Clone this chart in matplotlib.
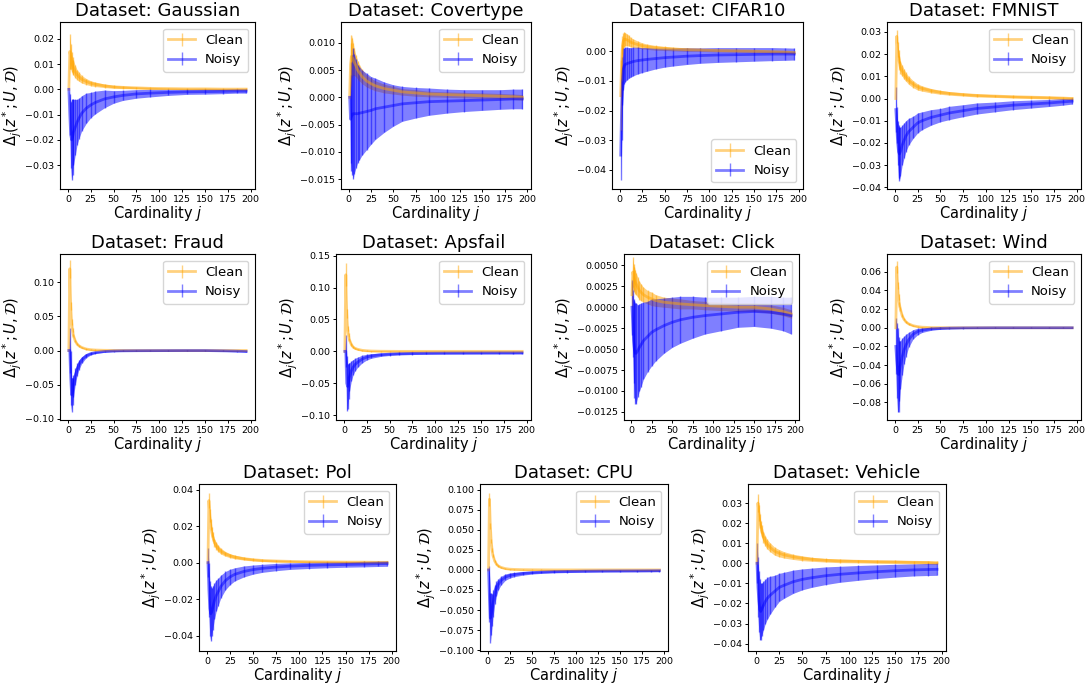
import matplotlib
matplotlib.use("Agg")
import matplotlib.pyplot as plt
from matplotlib.ticker import MultipleLocator
import numpy as np

J = [1, 2, 3, 4, 5, 6, 8, 10, 12, 15, 20, 25, 30, 40, 50, 60, 75, 90, 110, 130, 150, 170, 185, 195]

names = ["Gaussian", "Covertype", "CIFAR10", "FMNIST", "Fraud", "Apsfail",
         "Click", "Wind", "Pol", "CPU", "Vehicle"]

# Gaussian
gauss_clean = [0.0, 0.015, 0.013, 0.011, 0.0095, 0.0085, 0.007, 0.0058, 0.005, 0.004, 0.0031, 0.0024,
               0.002, 0.0014, 0.001, 0.0008, 0.0006, 0.0004, 0.0003, 0.0002, 0.0002, 0.0001, 0.0001, 0.0001]
gauss_clean_err = [0.0, 0.007, 0.005, 0.004, 0.0035, 0.003, 0.0025, 0.002, 0.0018, 0.0015, 0.0012, 0.001,
                   0.0009, 0.0007, 0.0006, 0.0005, 0.0004, 0.0004, 0.0003, 0.0003, 0.0003, 0.0003, 0.0003, 0.0003]
gauss_noisy = [0.0, -0.01, -0.018, -0.02, -0.019, -0.017, -0.015, -0.013, -0.0115, -0.0095, -0.0075, -0.0062,
               -0.0052, -0.0038, -0.003, -0.0024, -0.0018, -0.0015, -0.0012, -0.001, -0.0009, -0.0008, -0.0007, -0.0007]
gauss_noisy_err = [0.0, 0.008, 0.013, 0.016, 0.015, 0.013, 0.011, 0.009, 0.008, 0.007, 0.006, 0.005,
                   0.0045, 0.0035, 0.0025, 0.002, 0.0017, 0.0015, 0.0012, 0.001, 0.001, 0.0009, 0.0008, 0.0008]

# Covertype
cov_clean = [0.0, 0.006, 0.0075, 0.0073, 0.007, 0.0065, 0.0058, 0.005, 0.0045, 0.0038, 0.003, 0.0025,
             0.0021, 0.0016, 0.0013, 0.001, 0.0008, 0.0006, 0.0005, 0.0004, 0.0003, 0.0002, 0.0001, 0.0]
cov_clean_err = [0.0, 0.004, 0.004, 0.0035, 0.003, 0.0025, 0.002, 0.0017, 0.0015, 0.0013, 0.0011, 0.001,
                 0.0009, 0.0008, 0.0007, 0.0006, 0.0006, 0.0005, 0.0005, 0.0005, 0.0005, 0.0005, 0.0005, 0.0005]
cov_noisy = [0.0, -0.004, -0.0035, -0.0032, -0.003, -0.003, -0.003, -0.003, -0.0029, -0.0028, -0.0026, -0.0024,
             -0.0021, -0.0018, -0.0015, -0.0012, -0.001, -0.0008, -0.0007, -0.0006, -0.0005, -0.0004, -0.0003, -0.0003]
cov_noisy_err = [0.0, 0.008, 0.01, 0.011, 0.012, 0.011, 0.01, 0.009, 0.0085, 0.0078, 0.007, 0.0062,
                 0.0056, 0.0046, 0.0038, 0.0032, 0.0028, 0.0025, 0.0022, 0.002, 0.0019, 0.0018, 0.0018, 0.0018]

# CIFAR10
cifar_clean = [-0.015, -0.004, 0.002, 0.0035, 0.004, 0.004, 0.0038, 0.0035, 0.003, 0.0027, 0.0022, 0.0018,
               0.0015, 0.0011, 0.0009, 0.0007, 0.0005, 0.0004, 0.0002, 0.0001, 0.0, -0.0002, -0.0003, -0.0005]
cifar_clean_err = [0.012, 0.006, 0.003, 0.0025, 0.0025, 0.0022, 0.002, 0.0018, 0.0016, 0.0014, 0.0012, 0.001,
                   0.0009, 0.0008, 0.0007, 0.0006, 0.0006, 0.0005, 0.0005, 0.0005, 0.0005, 0.0005, 0.0005, 0.0005]
cifar_noisy = [-0.035, -0.02, -0.01, -0.006, -0.005, -0.0045, -0.0042, -0.004, -0.0038, -0.0035, -0.0032, -0.003,
               -0.0028, -0.0025, -0.0022, -0.002, -0.0017, -0.0015, -0.0013, -0.0012, -0.0011, -0.001, -0.001, -0.001]
cifar_noisy_err = [0.0085, 0.01, 0.008, 0.007, 0.006, 0.0058, 0.0055, 0.0052, 0.005, 0.0048, 0.0045, 0.0042,
                   0.004, 0.0035, 0.0032, 0.003, 0.0028, 0.0026, 0.0025, 0.0024, 0.0023, 0.0022, 0.0021, 0.002]

# FMNIST
fm_clean = [0.0, 0.028, 0.022, 0.019, 0.016, 0.014, 0.0125, 0.011, 0.0098, 0.0082, 0.0065, 0.0052,
            0.0045, 0.0035, 0.0028, 0.0023, 0.0018, 0.0014, 0.0011, 0.0008, 0.0006, 0.0004, 0.0002, 0.0]
fm_clean_err = [0.0, 0.003, 0.0035, 0.003, 0.003, 0.0028, 0.0025, 0.0023, 0.002, 0.0018, 0.0016, 0.0014,
                0.0012, 0.001, 0.0009, 0.0008, 0.0007, 0.0007, 0.0006, 0.0006, 0.0006, 0.0006, 0.0006, 0.0006]
fm_noisy = [-0.005, -0.012, -0.02, -0.024, -0.025, -0.024, -0.021, -0.019, -0.017, -0.015, -0.013, -0.011,
            -0.01, -0.0085, -0.0075, -0.0065, -0.0055, -0.0045, -0.0038, -0.003, -0.0025, -0.002, -0.0015, -0.0012]
fm_noisy_err = [0.01, 0.008, 0.01, 0.012, 0.012, 0.011, 0.009, 0.008, 0.007, 0.006, 0.005, 0.0045,
                0.004, 0.0035, 0.003, 0.003, 0.0027, 0.0025, 0.0022, 0.002, 0.0018, 0.0016, 0.0015, 0.0013]

# Fraud
fraud_clean = [0.0, 0.12, 0.065, 0.042, 0.03, 0.022, 0.014, 0.0095, 0.007, 0.0045, 0.0022, 0.0012,
               0.0007, 0.0003, 0.0002, 0.0001, 0.0, 0.0, 0.0, 0.0, 0.0, 0.0, 0.0, 0.0]
fraud_clean_err = [0.0, 0.013, 0.006, 0.004, 0.003, 0.0025, 0.002, 0.0015, 0.0012, 0.001, 0.0008, 0.0008,
                   0.0008, 0.0008, 0.0008, 0.0008, 0.0008, 0.0008, 0.0008, 0.0008, 0.0008, 0.0008, 0.0008, 0.0008]
fraud_noisy = [0.0, 0.0, -0.04, -0.065, -0.06, -0.052, -0.038, -0.028, -0.021, -0.014, -0.0075, -0.0045,
               -0.003, -0.0015, -0.0008, -0.0005, -0.0003, -0.0002, -0.0001, 0.0, 0.0, -0.0005, -0.001, -0.0015]
fraud_noisy_err = [0.0, 0.033, 0.04, 0.025, 0.02, 0.016, 0.012, 0.009, 0.007, 0.005, 0.003, 0.002,
                   0.0015, 0.001, 0.0008, 0.0008, 0.0008, 0.0008, 0.0008, 0.0008, 0.0008, 0.0008, 0.0008, 0.0008]

# Apsfail
aps_clean = [0.0, 0.12, 0.06, 0.036, 0.025, 0.018, 0.011, 0.0068, 0.0048, 0.0032, 0.0016, 0.0009,
             0.0005, 0.0002, 0.0001, 0.0, 0.0, 0.0, 0.0, 0.0, 0.0, 0.0, 0.0, 0.0]
aps_clean_err = [0.0, 0.018, 0.007, 0.004, 0.003, 0.0025, 0.002, 0.0015, 0.0012, 0.001, 0.0008, 0.0008,
                 0.0008, 0.0008, 0.0008, 0.0008, 0.0008, 0.0008, 0.0008, 0.0008, 0.0008, 0.0008, 0.0008, 0.0008]
aps_noisy = [0.0, 0.0, -0.05, -0.055, -0.047, -0.04, -0.031, -0.025, -0.021, -0.017, -0.012, -0.009,
             -0.0072, -0.0053, -0.0043, -0.0037, -0.0032, -0.003, -0.0028, -0.0027, -0.0026, -0.0025, -0.0025, -0.0024]
aps_noisy_err = [0.0, 0.025, 0.043, 0.035, 0.028, 0.022, 0.016, 0.012, 0.01, 0.008, 0.006, 0.0045,
                 0.0036, 0.0027, 0.0022, 0.002, 0.0018, 0.0016, 0.0015, 0.0015, 0.0015, 0.0015, 0.0015, 0.0015]

# Click
click_clean = [0.0015, 0.0042, 0.0036, 0.0033, 0.003, 0.0028, 0.0024, 0.002, 0.0018, 0.0015, 0.0012, 0.001,
               0.0008, 0.0006, 0.0005, 0.0004, 0.0003, 0.0002, 0.0001, 0.0, 0.0, -0.0002, -0.0005, -0.0008]
click_clean_err = [0.0015, 0.0018, 0.0016, 0.0015, 0.0014, 0.0013, 0.0012, 0.0011, 0.001, 0.0009, 0.0008, 0.0008,
                   0.0007, 0.0006, 0.0006, 0.0006, 0.0005, 0.0005, 0.0005, 0.0005, 0.0005, 0.0005, 0.0005, 0.0005]
click_noisy = [0.0, -0.002, -0.004, -0.005, -0.0055, -0.0055, -0.0052, -0.0048, -0.0045, -0.004, -0.0035, -0.003,
               -0.0027, -0.0022, -0.0018, -0.0015, -0.0012, -0.001, -0.0008, -0.0006, -0.0005, -0.0006, -0.0008, -0.001]
click_noisy_err = [0.0033, 0.004, 0.005, 0.0058, 0.006, 0.006, 0.0055, 0.0052, 0.005, 0.0046, 0.0042, 0.004,
                   0.0037, 0.0033, 0.003, 0.0028, 0.0025, 0.0022, 0.002, 0.0018, 0.0018, 0.0019, 0.002, 0.0022]

# Wind
wind_clean = [0.0, 0.065, 0.045, 0.033, 0.025, 0.02, 0.013, 0.009, 0.0065, 0.0042, 0.0022, 0.0012,
              0.0006, 0.0002, 0.0001, 0.0, 0.0, 0.0, 0.0, 0.0, 0.0, 0.0, 0.0, 0.0]
wind_clean_err = [0.0, 0.006, 0.004, 0.003, 0.0025, 0.002, 0.0015, 0.0012, 0.001, 0.0008, 0.0006, 0.0005,
                  0.0005, 0.0005, 0.0005, 0.0005, 0.0005, 0.0005, 0.0005, 0.0005, 0.0005, 0.0005, 0.0005, 0.0005]
wind_noisy = [-0.02, -0.035, -0.045, -0.05, -0.046, -0.04, -0.031, -0.024, -0.019, -0.013, -0.007, -0.004,
              -0.0025, -0.0012, -0.0007, -0.0004, -0.0002, -0.0001, 0.0, 0.0, 0.0, 0.0, 0.0, 0.0]
wind_noisy_err = [0.03, 0.04, 0.045, 0.04, 0.032, 0.026, 0.02, 0.015, 0.012, 0.008, 0.005, 0.0035,
                  0.0025, 0.0015, 0.001, 0.0008, 0.0006, 0.0005, 0.0005, 0.0005, 0.0005, 0.0005, 0.0005, 0.0005]

# Pol
pol_clean = [0.0, 0.034, 0.026, 0.021, 0.017, 0.0145, 0.011, 0.0092, 0.0078, 0.0063, 0.0048, 0.0038,
             0.0031, 0.0022, 0.0016, 0.0012, 0.0009, 0.0007, 0.0005, 0.0004, 0.0003, 0.0003, 0.0002, 0.0002]
pol_clean_err = [0.0, 0.004, 0.0035, 0.003, 0.0028, 0.0025, 0.0022, 0.002, 0.0018, 0.0016, 0.0013, 0.0011,
                 0.001, 0.0008, 0.0007, 0.0006, 0.0006, 0.0005, 0.0005, 0.0005, 0.0005, 0.0005, 0.0005, 0.0005]
pol_noisy = [0.0, -0.015, -0.025, -0.028, -0.027, -0.025, -0.021, -0.018, -0.016, -0.013, -0.0098, -0.0078,
             -0.0064, -0.0048, -0.0038, -0.0031, -0.0024, -0.0019, -0.0015, -0.0012, -0.001, -0.0008, -0.0006, -0.0005]
pol_noisy_err = [0.008, 0.015, 0.015, 0.015, 0.013, 0.012, 0.01, 0.0085, 0.0075, 0.0062, 0.005, 0.0042,
                 0.0036, 0.003, 0.0025, 0.0022, 0.002, 0.0018, 0.0017, 0.0016, 0.0015, 0.0015, 0.0015, 0.0015]

# CPU
cpu_clean = [0.0, 0.088, 0.055, 0.036, 0.025, 0.018, 0.011, 0.0072, 0.005, 0.0032, 0.0016, 0.0009,
             0.0006, 0.0003, 0.0002, 0.0001, 0.0, 0.0, 0.0, 0.0, 0.0, 0.0, 0.0, 0.0]
cpu_clean_err = [0.0, 0.008, 0.004, 0.003, 0.0025, 0.002, 0.0015, 0.0012, 0.001, 0.0008, 0.0006, 0.0005,
                 0.0005, 0.0005, 0.0005, 0.0005, 0.0005, 0.0005, 0.0005, 0.0005, 0.0005, 0.0005, 0.0005, 0.0005]
cpu_noisy = [0.0, -0.035, -0.06, -0.055, -0.05, -0.042, -0.031, -0.023, -0.018, -0.0135, -0.009, -0.007,
             -0.0058, -0.0043, -0.0034, -0.0028, -0.0022, -0.0019, -0.0016, -0.0014, -0.0013, -0.0012, -0.0011, -0.001]
cpu_noisy_err = [0.005, 0.03, 0.031, 0.026, 0.02, 0.017, 0.012, 0.009, 0.007, 0.0055, 0.004, 0.0032,
                 0.0027, 0.0022, 0.0018, 0.0016, 0.0015, 0.0014, 0.0013, 0.0012, 0.0012, 0.0012, 0.0012, 0.0012]

# Vehicle
veh_clean = [0.0, 0.03, 0.025, 0.021, 0.018, 0.016, 0.013, 0.011, 0.0095, 0.008, 0.006, 0.005,
             0.0042, 0.0032, 0.0025, 0.002, 0.0015, 0.0012, 0.001, 0.0008, 0.0007, 0.0005, 0.0004, 0.0002]
veh_clean_err = [0.0, 0.0045, 0.004, 0.0035, 0.003, 0.003, 0.0028, 0.0026, 0.0024, 0.0022, 0.002, 0.0018,
                 0.0016, 0.0013, 0.0012, 0.001, 0.0009, 0.0009, 0.0008, 0.0008, 0.0008, 0.0008, 0.0008, 0.0008]
veh_noisy = [0.0, -0.012, -0.019, -0.023, -0.024, -0.023, -0.021, -0.019, -0.0175, -0.016, -0.014, -0.012,
             -0.011, -0.0092, -0.008, -0.0072, -0.0062, -0.0055, -0.0048, -0.0042, -0.0037, -0.0033, -0.0031, -0.003]
veh_noisy_err = [0.01, 0.015, 0.015, 0.015, 0.014, 0.013, 0.012, 0.011, 0.0105, 0.0095, 0.008, 0.007,
                 0.0065, 0.0058, 0.0052, 0.0048, 0.0044, 0.004, 0.0037, 0.0034, 0.0032, 0.003, 0.003, 0.003]

clean = [gauss_clean, cov_clean, cifar_clean, fm_clean, fraud_clean, aps_clean,
         click_clean, wind_clean, pol_clean, cpu_clean, veh_clean]
clean_err = [gauss_clean_err, cov_clean_err, cifar_clean_err, fm_clean_err, fraud_clean_err, aps_clean_err,
             click_clean_err, wind_clean_err, pol_clean_err, cpu_clean_err, veh_clean_err]
noisy = [gauss_noisy, cov_noisy, cifar_noisy, fm_noisy, fraud_noisy, aps_noisy,
         click_noisy, wind_noisy, pol_noisy, cpu_noisy, veh_noisy]
noisy_err = [gauss_noisy_err, cov_noisy_err, cifar_noisy_err, fm_noisy_err, fraud_noisy_err, aps_noisy_err,
             click_noisy_err, wind_noisy_err, pol_noisy_err, cpu_noisy_err, veh_noisy_err]

# axes boxes in pixels: left, right, top, bottom
W, H = 1089, 684
boxes = [(60, 255, 22, 189), (341, 531, 22, 189), (612, 803, 22, 189), (887, 1081, 22, 189),
         (60, 255, 254, 420), (336, 531, 254, 420), (624, 799, 254, 420), (887, 1081, 254, 420),
         (199, 396, 484, 651), (480, 668, 484, 651), (748, 946, 484, 651)]
ylims = [(-0.0395, 0.0267), (-0.0168, 0.0138), (-0.0464, 0.0098), (-0.0408, 0.0345),
         (-0.102, 0.1417), (-0.1076, 0.1526), (-0.01347, 0.00636), (-0.0988, 0.079),
         (-0.0484, 0.0431), (-0.101, 0.107), (-0.0437, 0.0395)]
ysteps = [0.01, 0.005, 0.01, 0.01, 0.05, 0.05, 0.0025, 0.02, 0.02, 0.025, 0.01]

fig = plt.figure(figsize=(W / 100, H / 100), dpi=100)

for i in range(len(names)):
    l, r, t, b = boxes[i]
    ax = fig.add_axes([l / W, 1 - b / H, (r - l) / W, (b - t) / H])
    for y, e, c, lab in [(clean[i], clean_err[i], "orange", "Clean"),
                         (noisy[i], noisy_err[i], "blue", "Noisy")]:
        y = np.array(y)
        e = np.array(e)
        ax.fill_between(J, y - e, y + e, color=c, alpha=0.5, lw=0)
        ax.errorbar(J, y, yerr=e, color=c, alpha=0.5, lw=2, elinewidth=1, label=lab)
    ax.set_ylim(*ylims[i])
    ax.yaxis.set_major_locator(MultipleLocator(ysteps[i]))
    ax.set_xticks([0, 25, 50, 75, 100, 125, 150, 175, 200])
    ax.tick_params(labelsize=6.8, length=2.5, pad=1.5, width=0.7)
    ax.set_title("Dataset: " + names[i], fontsize=13, pad=4)
    ax.set_xlabel(r"Cardinality $j$", fontsize=10.5, labelpad=0)
    ax.set_ylabel(r"$\Delta_j(z^*;U,\mathcal{D})$", fontsize=10.5, labelpad=1)
    loc = "lower right" if names[i] == "CIFAR10" else "upper right"
    ax.legend(loc=loc, fontsize=9.5)

fig.savefig("out.png", dpi=100)
